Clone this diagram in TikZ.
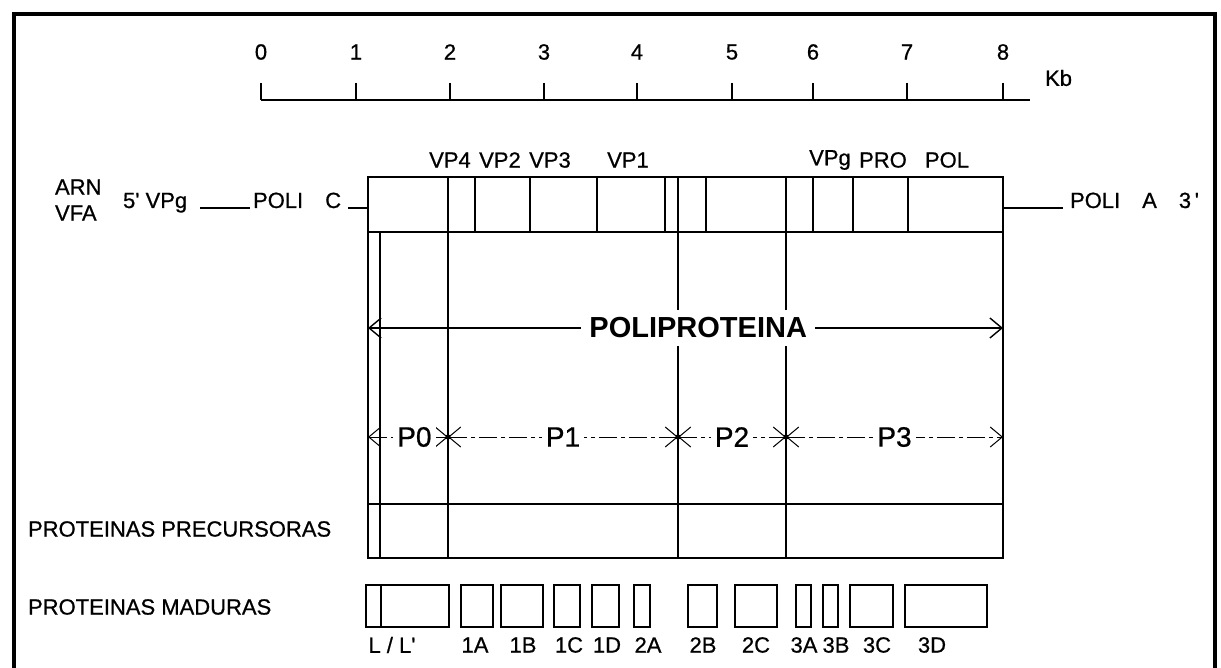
\documentclass[tikz,border=0pt]{standalone}
\usepackage{fontspec}
\setmainfont{Liberation Sans}[UprightFeatures={FakeBold=0.7}]
\usetikzlibrary{arrows.meta}

\begin{document}
\begin{tikzpicture}[
        x=50pt,
        y=50pt,
        every node/.style={font=\fontsize{11}{13}\selectfont},
        frame/.style={line width=2pt},
        seg/.style={line width=1.1pt},
        mature/.style={line width=1.1pt},
        polyarrow/.style={line width=0.7pt, {Straight Barb[length=6pt,width=10pt]}-{Straight Barb[length=6pt,width=10pt]}},
        dimarrow/.style={line width=0.5pt, dash pattern=on 9pt off 2pt on 2pt off 2pt,
            {Straight Barb[length=6pt,width=10pt]}-{Straight Barb[length=6pt,width=10pt]}},
        plabel/.style={fill=white, inner sep=2pt, font=\fontsize{14}{16}\selectfont},
        junction/.style={circle, fill, inner sep=0pt, minimum size=2.6pt}
    ]

    \useasboundingbox (0,0) rectangle (12.21,-6.68);

    % =========================
    % Outer frame
    % =========================
    \draw[frame] (0.14,-6.90) -- (0.14,-0.14) -- (12.15,-0.14) -- (12.15,-6.90);

    % =========================
    % Kb scale
    % =========================
    \draw[seg] (2.61,-1.00) -- (10.30,-1.00);
    \foreach \k/\x in {0/2.61,1/3.56,2/4.50,3/5.44,4/6.37,5/7.32,6/8.13,7/9.07,8/10.03} {
        \draw[seg] (\x,-0.83) -- (\x,-1.00);
        \node (kb\k) at (\x,-0.52) {\k};
    }
    \node[anchor=west] (kbunit) at (10.38,-0.78) {Kb};

    % =========================
    % Genome (ARN VFA)
    % =========================
    \node[anchor=west] (arn) at (0.48,-1.87) {ARN};
    \node[anchor=west] (vfa) at (0.48,-2.13) {VFA};
    \node[anchor=base west] (vpg5) at (1.16,-2.08) {5\textquotesingle\ VPg};
    \node[anchor=base west] (polic) at (2.46,-2.08) {POLI\quad C};
    \node[anchor=base west] (polia) at (10.63,-2.08) {POLI\quad A\quad 3\,\textquotesingle};

    \coordinate (gL) at (3.68,-2.08);
    \coordinate (gR) at (10.03,-2.08);

    \draw[seg] ([xshift=3pt]vpg5.base east) -- ([xshift=2pt]polic.base west);
    \draw[seg] (polic.base east) -- (gL);
    \draw[seg] (gR) -- (polia.base west);

    \draw[seg] (3.68,-1.77) rectangle (10.03,-2.32);
    \foreach \x in {4.48,4.75,5.30,5.97,6.65,6.78,7.06,7.86,8.13,8.53,9.08}
        \draw[seg] (\x,-1.77) -- (\x,-2.32);

    \foreach \n/\x in {VP4/4.50,VP2/5.00,VP3/5.50,VP1/6.28,VPg/8.30,PRO/8.83,POL/9.47}
        \node (\n) at (\x,-1.60) {\n};

    % =========================
    % Polyprotein and precursors
    % =========================
    \draw[seg] (3.68,-2.32) rectangle (10.03,-5.58);
    \draw[seg] (3.68,-5.04) -- (10.03,-5.04);
    \foreach \x in {3.80,4.48,6.78,7.86}
        \draw[seg] (\x,-2.32) -- (\x,-5.58);

    \coordinate (polyL) at (3.68,-3.28);
    \coordinate (polyR) at (10.03,-3.28);
    \draw[polyarrow] (polyL) -- node[pos=0.52, fill=white, inner sep=4pt,
        font=\bfseries\fontsize{14.5}{16}\selectfont] (poly) {POLIPROTEINA} (polyR);

    \foreach \i/\x in {0/3.68,1/4.48,2/6.78,3/7.86,4/10.03}
        \coordinate (c\i) at (\x,-4.37);
    \draw[dimarrow] (c0) -- node[plabel, pos=0.58] (p0) {P0} (c1);
    \draw[dimarrow] (c1) -- node[plabel] (p1) {P1} (c2);
    \draw[dimarrow] (c2) -- node[plabel] (p2) {P2} (c3);
    \draw[dimarrow] (c3) -- node[plabel] (p3) {P3} (c4);
    \foreach \i in {1,2,3}
        \node[junction] (j\i) at (c\i) {};

    \node[anchor=west] (precur) at (0.21,-5.29) {PROTEINAS PRECURSORAS};

    % =========================
    % Mature proteins
    % =========================
    \node[anchor=west] (madur) at (0.21,-6.07) {PROTEINAS MADURAS};

    \foreach \a/\b in {3.66/4.49,4.61/4.93,5.01/5.43,5.54/5.80,5.92/6.19,6.34/6.50,
                       6.88/7.17,7.35/7.77,7.96/8.11,8.23/8.38,8.50/8.93,9.05/9.87}
        \draw[mature] (\a,-5.85) rectangle (\b,-6.27);
    \draw[mature] (3.81,-5.85) -- (3.81,-6.27);

    \node (mL) at (3.92,-6.45) {L / L\textquotesingle};
    \foreach \n/\x in {1A/4.75,1B/5.23,1C/5.69,1D/6.07,2A/6.48,2B/7.03,2C/7.56,3A/8.04,3B/8.36,3C/8.77,3D/9.32}
        \node (m\n) at (\x,-6.45) {\n};

\end{tikzpicture}
\end{document}
